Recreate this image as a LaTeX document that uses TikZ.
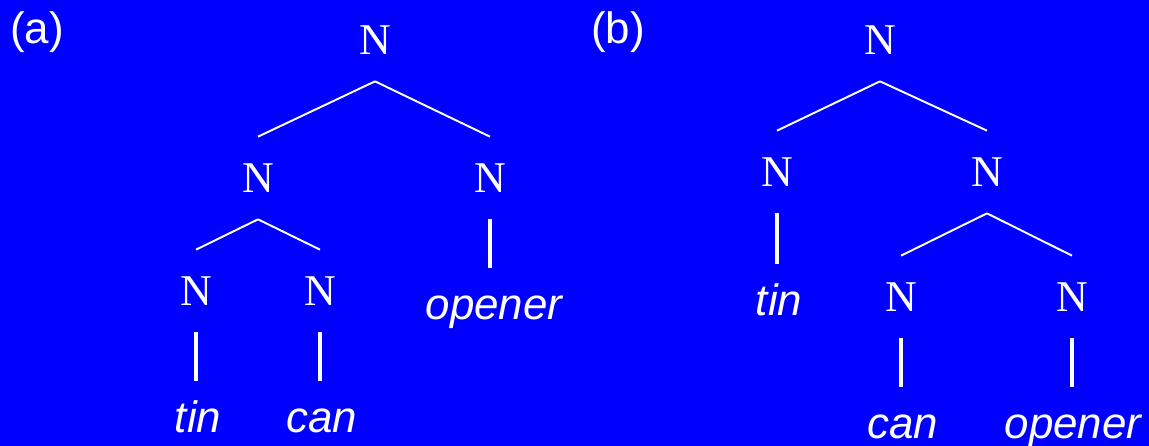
\documentclass[tikz,border=0pt]{standalone}
\usepackage{fontspec}
\setmainfont{Liberation Serif}
\setsansfont{Liberation Sans}

\definecolor{slide}{RGB}{0,0,255}

\begin{document}
\begin{tikzpicture}
  [
    x                   = 0.02cm,
    y                   = -0.02cm,
    every node/.style   = {text=white, inner sep=0pt},
    cat/.style          = {font=\rmfamily\fontsize{25}{30}\selectfont, minimum height=1.64cm},
    word/.style         = {font=\sffamily\itshape\fontsize{25}{30}\selectfont, anchor=base,
                           text height=18.75pt, inner ysep=10pt},
    tag/.style          = {font=\sffamily\fontsize{25}{30}\selectfont, anchor=base west},
    branch/.style       = {draw=white, line width=1.1pt},
    stem/.style         = {draw=white, line width=1.9pt}
  ]
  \useasboundingbox (0,0) rectangle (1149,446);
  \fill[slide] (0,0) rectangle (1149,446);

  % (a) [[tin can] opener]
  \node[tag] (taga) at (10,44) {(a)};
  \node[cat] (aN)   at (375,40)  {N};
  \node[cat] (aNl)  at (258,178) {N};
  \node[cat] (aNr)  at (490,178) {N};
  \node[cat] (aNll) at (196,291) {N};
  \node[cat] (aNlr) at (320,291) {N};
  \node[word] (aTin)    at (198,432) {tin};
  \node[word] (aCan)    at (322,432) {can};
  \node[word] (aOpener) at (494,319) {opener};

  \path[branch] (aN.south) -- (aNl.north) (aN.south) -- (aNr.north);
  \path[branch] (aNl.south) -- (aNll.north) (aNl.south) -- (aNlr.north);
  \path[stem] (aNll.south) -- (aNll.south |- aTin.north);
  \path[stem] (aNlr.south) -- (aNlr.south |- aCan.north);
  \path[stem] (aNr.south) -- (aNr.south |- aOpener.north);

  % (b) [tin [can opener]]
  \node[tag] (tagb) at (591,44) {(b)};
  \node[cat] (bN)   at (880,40)   {N};
  \node[cat] (bNl)  at (777,172)  {N};
  \node[cat] (bNr)  at (987,172)  {N};
  \node[cat] (bNrl) at (901,297)  {N};
  \node[cat] (bNrr) at (1072,297) {N};
  \node[word] (bTin)    at (779,315)  {tin};
  \node[word] (bCan)    at (903,438)  {can};
  \node[word] (bOpener) at (1073,438) {opener};

  \path[branch] (bN.south) -- (bNl.north) (bN.south) -- (bNr.north);
  \path[branch] (bNr.south) -- (bNrl.north) (bNr.south) -- (bNrr.north);
  \path[stem] (bNl.south) -- (bNl.south |- bTin.north);
  \path[stem] (bNrl.south) -- (bNrl.south |- bCan.north);
  \path[stem] (bNrr.south) -- (bNrr.south |- bOpener.north);
\end{tikzpicture}
\end{document}
